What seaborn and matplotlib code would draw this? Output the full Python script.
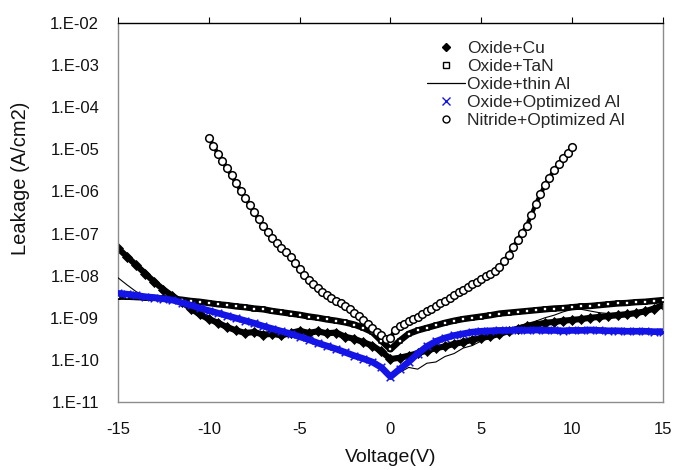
import numpy as np
import pandas as pd
import matplotlib
matplotlib.use("Agg")
import matplotlib.pyplot as plt
from matplotlib.lines import Line2D
from matplotlib.ticker import FixedLocator, FuncFormatter, NullLocator
import seaborn as sns

# Voltage sweep (V) for the four +-15 V samples, 0.5 V steps
volt_15 = [-15.0, -14.5, -14.0, -13.5, -13.0, -12.5, -12.0, -11.5, -11.0, -10.5,
           -10.0, -9.5, -9.0, -8.5, -8.0, -7.5, -7.0, -6.5, -6.0, -5.5,
           -5.0, -4.5, -4.0, -3.5, -3.0, -2.5, -2.0, -1.5, -1.0, -0.5,
           0.0, 0.5, 1.0, 1.5, 2.0, 2.5, 3.0, 3.5, 4.0, 4.5,
           5.0, 5.5, 6.0, 6.5, 7.0, 7.5, 8.0, 8.5, 9.0, 9.5,
           10.0, 10.5, 11.0, 11.5, 12.0, 12.5, 13.0, 13.5, 14.0, 14.5, 15.0]

# log10 of leakage (A/cm2) per sample
log_cu = [-7.35, -7.55, -7.75, -7.95, -8.15, -8.33, -8.48, -8.62, -8.78, -8.92,
          -9.03, -9.12, -9.22, -9.30, -9.36, -9.34, -9.40, -9.38, -9.42, -9.36,
          -9.31, -9.36, -9.32, -9.37, -9.35, -9.45, -9.50, -9.58, -9.66, -9.80,
          -9.98, -9.95, -9.90, -9.84, -9.78, -9.72, -9.68, -9.62, -9.58, -9.52,
          -9.48, -9.44, -9.38, -9.32, -9.26, -9.20, -9.16, -9.12, -9.10, -9.07,
          -9.05, -9.03, -9.00, -8.98, -8.96, -8.94, -8.92, -8.89, -8.85, -8.78, -8.70]

log_tan = [-8.50, -8.50, -8.51, -8.52, -8.53, -8.54, -8.55, -8.57, -8.60, -8.62,
           -8.65, -8.68, -8.70, -8.73, -8.75, -8.78, -8.80, -8.84, -8.87, -8.90,
           -8.93, -8.97, -9.00, -9.04, -9.07, -9.11, -9.16, -9.24, -9.34, -9.55,
           -9.75, -9.55, -9.38, -9.30, -9.24, -9.18, -9.12, -9.07, -9.03, -9.00,
           -8.97, -8.94, -8.90, -8.88, -8.86, -8.84, -8.82, -8.80, -8.78, -8.77,
           -8.75, -8.73, -8.72, -8.70, -8.68, -8.66, -8.65, -8.63, -8.62, -8.60, -8.58]

log_thin_al = [-8.05, -8.22, -8.38, -8.48, -8.53, -8.56, -8.60, -8.66, -8.72, -8.79,
               -8.85, -8.91, -8.97, -9.03, -9.09, -9.15, -9.22, -9.28, -9.34, -9.40,
               -9.47, -9.54, -9.62, -9.69, -9.76, -9.84, -9.92, -9.99, -10.07, -10.20,
               -10.36, -10.30, -10.18, -10.22, -10.08, -10.05, -9.92, -9.85, -9.72, -9.66,
               -9.55, -9.45, -9.36, -9.28, -9.20, -9.14, -9.08, -9.00, -8.94, -8.86,
               -8.80, -8.80, -8.84, -8.88, -8.90, -8.88, -8.86, -8.84, -8.80, -8.75, -8.68]

log_opt_al = [-8.42, -8.44, -8.47, -8.50, -8.52, -8.55, -8.58, -8.64, -8.70, -8.77,
              -8.83, -8.89, -8.95, -9.01, -9.07, -9.13, -9.20, -9.26, -9.32, -9.38,
              -9.45, -9.52, -9.60, -9.67, -9.74, -9.82, -9.90, -9.97, -10.05, -10.18,
              -10.40, -10.22, -10.05, -9.85, -9.68, -9.56, -9.48, -9.42, -9.38, -9.34,
              -9.32, -9.31, -9.30, -9.30, -9.29, -9.30, -9.29, -9.30, -9.30, -9.31,
              -9.30, -9.30, -9.29, -9.30, -9.31, -9.31, -9.32, -9.32, -9.32, -9.33, -9.33]

# Nitride sample was swept +-10 V, read at 0.25 V steps
volt_10 = [-10.0, -9.75, -9.5, -9.25, -9.0, -8.75, -8.5, -8.25, -8.0, -7.75,
           -7.5, -7.25, -7.0, -6.75, -6.5, -6.25, -6.0, -5.75, -5.5, -5.25,
           -5.0, -4.75, -4.5, -4.25, -4.0, -3.75, -3.5, -3.25, -3.0, -2.75,
           -2.5, -2.25, -2.0, -1.75, -1.5, -1.25, -1.0, -0.75, -0.5, -0.25,
           0.0, 0.25, 0.5, 0.75, 1.0, 1.25, 1.5, 1.75, 2.0, 2.25,
           2.5, 2.75, 3.0, 3.25, 3.5, 3.75, 4.0, 4.25, 4.5, 4.75,
           5.0, 5.25, 5.5, 5.75, 6.0, 6.25, 6.5, 6.75, 7.0, 7.25,
           7.5, 7.75, 8.0, 8.25, 8.5, 8.75, 9.0, 9.25, 9.5, 9.75, 10.0]

log_nitride = [-4.72, -4.92, -5.10, -5.28, -5.45, -5.62, -5.80, -5.98, -6.15, -6.32,
               -6.50, -6.66, -6.82, -6.96, -7.10, -7.23, -7.35, -7.45, -7.56, -7.70,
               -7.85, -7.98, -8.10, -8.20, -8.30, -8.38, -8.45, -8.53, -8.60, -8.66,
               -8.72, -8.80, -8.88, -8.96, -9.05, -9.15, -9.25, -9.33, -9.42, -9.50,
               -9.48, -9.28, -9.20, -9.14, -9.08, -9.03, -8.98, -8.92, -8.85, -8.78,
               -8.72, -8.66, -8.60, -8.52, -8.45, -8.39, -8.33, -8.26, -8.20, -8.14,
               -8.08, -8.02, -7.95, -7.88, -7.80, -7.66, -7.50, -7.33, -7.15, -6.98,
               -6.82, -6.56, -6.30, -6.07, -5.85, -5.67, -5.50, -5.35, -5.20, -5.08, -4.95]

labels = ["Oxide+Cu", "Oxide+TaN", "Oxide+thin Al", "Oxide+Optimized Al", "Nitride+Optimized Al"]
blue = "#1414e6"


def to_frame(volts, logs):
    return pd.DataFrame({"V": volts, "J": np.power(10.0, logs)})


def main():
    sns.set_style("white")
    plt.rcParams["font.family"] = ["Liberation Sans", "DejaVu Sans"]

    fig = plt.figure(figsize=(6.75, 4.7), dpi=100)
    ax = fig.add_axes([0.1748, 0.1447, 0.8074, 0.8064])
    ax.set_yscale("log")

    cu = to_frame(volt_15, log_cu)
    tan = to_frame(volt_15, log_tan)
    thin = to_frame(volt_15, log_thin_al)
    opt = to_frame(volt_15, log_opt_al)
    nit = to_frame(volt_10, log_nitride)

    # Oxide+Cu: dense filled diamonds -> thick band
    sns.lineplot(data=cu, x="V", y="J", ax=ax, color="black", lw=4.4, sort=False, zorder=2)
    sns.scatterplot(data=cu, x="V", y="J", ax=ax, marker="D", s=26, color="black",
                    edgecolor="black", linewidth=0.5, zorder=2)

    # Oxide+TaN: open squares heavily overlapped
    sns.lineplot(data=tan, x="V", y="J", ax=ax, color="black", lw=4.6, sort=False, zorder=3)
    sns.scatterplot(data=tan, x="V", y="J", ax=ax, marker="s", s=12, color="white",
                    edgecolor="black", linewidth=1.2, zorder=3)

    # Oxide+thin Al: thin line
    sns.lineplot(data=thin, x="V", y="J", ax=ax, color="black", lw=0.8, sort=False, zorder=4)

    # Oxide+Optimized Al: blue crosses
    sns.lineplot(data=opt, x="V", y="J", ax=ax, color=blue, lw=4.8, sort=False, zorder=5)
    sns.scatterplot(data=opt, x="V", y="J", ax=ax, marker="x", s=30, color=blue,
                    linewidth=1.1, zorder=5)

    # Nitride+Optimized Al: chain of open circles
    sns.lineplot(data=nit, x="V", y="J", ax=ax, color="black", lw=3.0, sort=False, zorder=6)
    sns.scatterplot(data=nit, x="V", y="J", ax=ax, marker="o", s=30, color="white",
                    edgecolor="black", linewidth=1.1, zorder=6)

    ax.set_xlim(-15, 15)
    ax.set_ylim(1e-11, 1e-2)

    ax.yaxis.set_major_locator(FixedLocator([10.0 ** e for e in range(-11, -1)]))
    ax.yaxis.set_minor_locator(NullLocator())
    ax.yaxis.set_major_formatter(FuncFormatter(lambda v, _: "1.E-%02d" % round(-np.log10(v))))
    ax.set_xticks([-15, -10, -5, 0, 5, 10, 15])
    ax.set_xticklabels(["-15", "-10", "-5", "0", "5", "10", "15"])

    ax.tick_params(axis="x", bottom=False, top=True, labelbottom=True, labeltop=False,
                   direction="out", length=4, width=0.8, color="black", pad=10.5,
                   labelsize=12, labelcolor="#111111")
    ax.tick_params(axis="y", left=False, right=False, pad=10, labelsize=12,
                   labelcolor="#111111")

    for side in ["left", "bottom", "right"]:
        ax.spines[side].set_color("#8c8c8c")
        ax.spines[side].set_linewidth(1.0)
    ax.spines["top"].set_color("black")
    ax.spines["top"].set_linewidth(1.0)

    ax.set_xlabel("Voltage(V)", fontsize=14, color="#111111")
    ax.set_ylabel("Leakage (A/cm2)", fontsize=14.5, color="#111111")
    ax.xaxis.set_label_coords(0.5, -0.125)
    ax.yaxis.set_label_coords(-0.161, 0.59)

    handles = [
        Line2D([], [], ls="none", marker="D", ms=4, color="black"),
        Line2D([], [], ls="none", marker="s", ms=4.5, mfc="white", mec="black", mew=1.0),
        Line2D([], [], color="black", lw=0.9),
        Line2D([], [], ls="none", marker="x", ms=5.5, color=blue, mew=1.0),
        Line2D([], [], ls="none", marker="o", ms=5, mfc="white", mec="black", mew=1.0),
    ]
    ax.legend(handles, labels, loc="upper left", bbox_to_anchor=(0.567, 0.952),
              frameon=False, fontsize=12.5, handlelength=2.2, handletextpad=0.1,
              labelspacing=0.16, borderpad=0, borderaxespad=0)

    fig.savefig("out.png", dpi=100)
    plt.close(fig)


if __name__ == "__main__":
    main()
